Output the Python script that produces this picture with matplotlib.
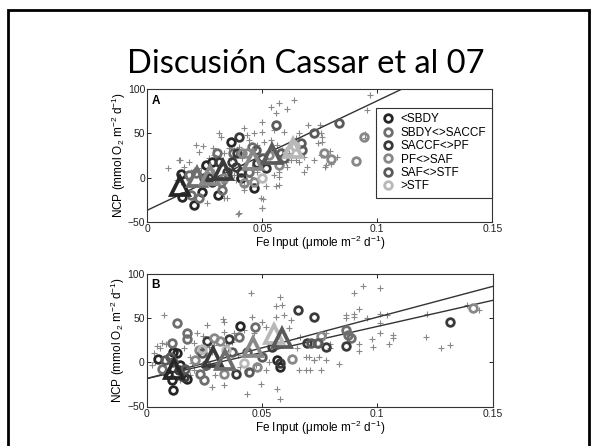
import matplotlib
matplotlib.use("Agg")
import matplotlib.pyplot as plt
from matplotlib.patches import Rectangle

plt.rcParams['font.family'] = ['Liberation Sans', 'DejaVu Sans']
plt.rcParams['mathtext.default'] = 'regular'

# region names and grey shades (legend order)
regions = ['<SBDY', 'SBDY<>SACCF', 'SACCF<>PF', 'PF<>SAF', 'SAF<>STF', '>STF']
shades = ['#262626', '#6e6e6e', '#3a3a3a', '#888888', '#5a5a5a', '#b8b8b8']

# ---- panel A ----
a_cross_x = [0.0536, 0.0572, 0.0609, 0.0638, 0.0558, 0.050, 0.042, 0.0435, 0.0464, 0.050,
             0.055, 0.0594, 0.031, 0.0319, 0.021, 0.0225, 0.018, 0.014, 0.016, 0.0333,
             0.0355, 0.0377, 0.040, 0.0478, 0.0507, 0.0536, 0.0565, 0.0587, 0.0616, 0.0623,
             0.0645, 0.0601, 0.0609, 0.0572, 0.055, 0.0572, 0.0558, 0.0572, 0.0514, 0.0493,
             0.050, 0.0399, 0.042, 0.042, 0.0348, 0.0333, 0.026, 0.018, 0.0203, 0.0232,
             0.026, 0.029, 0.0355, 0.0377, 0.0384, 0.0435, 0.045, 0.0478, 0.0457, 0.042,
             0.0413, 0.0362, 0.029, 0.0268, 0.0188, 0.0145, 0.0128, 0.068, 0.0696, 0.0725,
             0.0754, 0.0775, 0.066, 0.068, 0.074, 0.0754, 0.0645, 0.066, 0.0968, 0.0954,
             0.075, 0.0758, 0.0758, 0.0794, 0.0826, 0.0773, 0.080, 0.0947, 0.0947, 0.070,
             0.0138, 0.0174, 0.0396, 0.0497, 0.0504, 0.009, 0.024, 0.0285, 0.0335, 0.044]
a_cross_y = [79.6, 84, 77.3, 88, 72.8, 63.3, 55.8, 48.2, 50, 52,
             54, 52, 50, 46, 37, 29.4, 18, 20, 12, 27.5,
             33, 31, 35, 37, 40.7, 42.6, 37, 31, 27.5, 20,
             20, 18, 12.4, 6.7, 3, 1, -10, -8, -10, -23.5,
             -35, -40.5, -14, -8, -23.5, -23.5, -29, -2.7, 8.6, 10.5,
             6.7, 6.7, 8.6, 3, -2.7, -2.7, 1, 6.7, 12.4, 14.2,
             22, 22, 25.6, 22, 6.7, -4.6, -2.7, 6.7, 12.4, 20,
             25.6, 14.2, 18, 23.7, 38.8, 50, 44.5, 50, 93.5, 76.5,
             59.5, 46, 40, 30, 23, 12, 15, 49, 45, 60,
             19.7, -1, -41, -35, -24, 11, 36, 33, -6, 43]

a_circle_x = [
    [0.0145, 0.0152, 0.0203, 0.0239, 0.0254, 0.0283, 0.0307, 0.0362, 0.0406, 0.0464],
    [0.0188, 0.0225, 0.018, 0.021, 0.0304, 0.0326, 0.0319, 0.0374, 0.0442, 0.0457],
    [0.0246, 0.0312, 0.037, 0.0384, 0.039, 0.0268, 0.0283, 0.0348, 0.0406, 0.0478, 0.0514, 0.0399],
    [0.0413, 0.0435, 0.0333, 0.042, 0.0464, 0.0529, 0.0572, 0.0768, 0.0797, 0.0907, 0.0942],
    [0.0471, 0.050, 0.0558, 0.058, 0.0594, 0.0667, 0.0725, 0.0835, 0.0674],
    [0.050, 0.0616, 0.064],
]
a_circle_y = [
    [4, -21.6, -31, -16, 14, 18, -19.7, 40.7, -1, -12],
    [-19.7, -23.5, 3, 5, 27.5, -14, -4.6, 27.5, 6.7, 35],
    [-1, 18, 18, 12, 27.5, -1, -4.6, 6.7, 6.7, 16, 10.5, 46],
    [27.5, 27.5, -1, -6.5, -4.6, 25.6, 14.2, 27.5, 21, 18.8, 46],
    [31, 22, 59.6, 27.5, 21.8, 38.8, 51, 62, 31],
    [-1, 30, 36],
]
# region means (triangles)
a_tri_x = [0.014, 0.0216, 0.0274, 0.033, 0.046, 0.054, 0.0634]
a_tri_y = [-10, 1, 3, 8.6, 20, 27, 33]
a_tri_region = [0, 1, 3, 2, 3, 4, 5]

# fitted line A (intercept, slope)
a_fit = [(-37.0, 1240.0)]

# ---- panel B ----
b_cross_x = [0.0937, 0.1011, 0.0898, 0.092, 0.0863, 0.0863, 0.0898, 0.0898, 0.0953, 0.1011,
             0.1042, 0.1011, 0.1214, 0.1388, 0.1442, 0.1013, 0.1068, 0.1068, 0.1049, 0.0978,
             0.0982, 0.092, 0.092, 0.121, 0.1275, 0.1316, 0.0689, 0.0704, 0.0725, 0.0776,
             0.0795, 0.0795, 0.0652, 0.0776, 0.0073, 0.0262, 0.0331, 0.0334, 0.045, 0.058,
             0.0559, 0.0588, 0.0595, 0.0559, 0.0625, 0.0501, 0.0516, 0.0334, 0.0378, 0.042,
             0.0458, 0.0465, 0.037, 0.0342, 0.029, 0.0269, 0.0218, 0.0204, 0.0187, 0.016,
             0.0066, 0.0059, 0.003, 0.0037, 0.0023, 0.0167, 0.0197, 0.0204, 0.0189, 0.0146,
             0.0247, 0.0283, 0.0334, 0.0298, 0.037, 0.0406, 0.0436, 0.0472, 0.0516, 0.053,
             0.0494, 0.0566, 0.0436, 0.058, 0.071, 0.066, 0.0689, 0.0725, 0.0746, 0.0754,
             0.0045, 0.0085, 0.0125, 0.0245, 0.0285, 0.0395, 0.0555, 0.0615, 0.0665, 0.0835]
b_cross_y = [86.4, 83.4, 77.7, 60, 53, 49.5, 53.9, 51, 49.5, 54,
             53, 44, 53.9, 65, 58.5, 32.7, 30.7, 27, 20.2, 26.1,
             17.4, 20.4, 12.6, 28.8, 15.5, 19.3, -9.2, 6, 2.3, 2.3,
             15.5, 20.2, 16, 33.2, 53.4, 42, 48.5, 45.8, 78, 74,
             62.9, 64.8, 53.4, 51.5, 47.7, 45.8, 40.1, 34.4, 32.6, 36.3,
             51.5, 32.6, 23.1, 19.3, 19.3, 17.4, 32.6, 21.2, 6, 15.5,
             21.2, 15.5, 9.8, 0.4, -3.4, -5.3, -1.5, -9.1, -14.8, -20.5,
             -9.1, -28, -26.1, -14.8, -9.1, -5.3, -9.1, -3.4, -9.1, 0.4,
             -24.3, -30, -35.6, -41.3, -9.1, -9.1, 6, 2.3, 6, -9.1,
             18, 20, 14, 30, 12, 8, 22, 38, 28, -2]

b_circle_x = [
    [0.0051, 0.0116, 0.013, 0.0145, 0.0094, 0.0109, 0.0116, 0.0174, 0.0406, 0.0566, 0.058],
    [0.013, 0.0174, 0.0174, 0.0065, 0.0109, 0.0399, 0.0471, 0.0233, 0.0247, 0.0862, 0.0872, 0.0886],
    [0.0261, 0.0356, 0.0138, 0.016, 0.0385, 0.0545, 0.058, 0.0694, 0.0776, 0.0865, 0.1316, 0.0726, 0.0656],
    [0.0225, 0.029, 0.0319, 0.0334, 0.0479, 0.063, 0.074, 0.0757, 0.1413, 0.0211],
    [0.008, 0.0101, 0.0116, 0.0167, 0.0239, 0.0255, 0.0435, 0.037, 0.050, 0.0443, 0.0714, 0.0743],
    [0.042, 0.0239, 0.0345],
]
b_circle_y = [
    [4.1, 11.7, 9.8, -3.4, -12.9, -20.5, -31.8, -18.6, 40.9, 2.3, -5.3],
    [44, 32.6, 25.7, -7.2, 21.2, 28.8, 40.1, -12.9, -20.5, 36.4, 30.7, 26.9],
    [24.2, 25.7, -9.1, -16.7, -12.9, 16.6, -1.5, 21.2, 16.6, 18.6, 45.5, 51.5, 59],
    [13.6, 26.9, 24.2, -12.9, -6, 4.1, 21.2, 29.6, 61, 2.3],
    [2.3, 6, 0.4, -7.2, 9.8, -3.4, 11.7, 11.7, 6, -11, 21.3, 21.3],
    [-0.8, 15, 14],
]
b_tri_x = [0.012, 0.0289, 0.0339, 0.0463, 0.055, 0.0585]
b_tri_y = [-8, 6, 2, 17, 32, 27]
b_tri_region = [0, 2, 1, 3, 5, 4]

# two fitted lines in B
b_fit = [(-18.5, 693.0), (-18.5, 588.0)]

x_ticks = [0, 0.05, 0.1, 0.15]
x_ticklabels = ['0', '0.05', '0.1', '0.15']
y_ticks = [-50, 0, 50, 100]


def draw_panel(ax, letter, cross_x, cross_y, circ_x, circ_y, tri_x, tri_y, tri_reg, fits, legend=False):
    ax.plot(cross_x, cross_y, '+', color='#888888', ms=5, mew=0.8, zorder=2)
    for b0, b1 in fits:
        ax.plot([0, 0.15], [b0, b0 + b1 * 0.15], color='#333333', lw=1.0, zorder=3)
    for i in range(len(regions)):
        ax.plot(circ_x[i], circ_y[i], 'o', mfc='none', mec=shades[i], ms=5.5, mew=2.0,
                label=regions[i], zorder=4)
    for x, y, r in zip(tri_x, tri_y, tri_reg):
        ax.plot(x, y, '^', mfc='none', mec=shades[r], ms=13, mew=2.7, zorder=5)

    ax.set_xlim(0, 0.15)
    ax.set_ylim(-50, 100)
    ax.set_xticks(x_ticks)
    ax.set_xticklabels(x_ticklabels)
    ax.set_yticks(y_ticks)
    ax.tick_params(direction='in', length=3, width=0.7, top=True, right=True,
                   labelsize=7.5, pad=1.5, colors='#222222')
    for s in ax.spines.values():
        s.set_linewidth(0.8)
        s.set_color('#333333')
    ax.set_xlabel('Fe Input (\u03bcmole m$^{-2}$ d$^{-1}$)', fontsize=8.5, labelpad=0)
    ax.set_ylabel('NCP (mmol O$_2$ m$^{-2}$ d$^{-1}$)', fontsize=8.5, labelpad=0)
    ax.text(0.012, 0.96, letter, transform=ax.transAxes, fontsize=8.5, fontweight='bold',
            va='top', ha='left')
    if legend:
        leg = ax.legend(loc='upper right', bbox_to_anchor=(0.998, 0.859), fontsize=8.5,
                        frameon=True, fancybox=False, framealpha=1, edgecolor='#333333',
                        handlelength=1.0, handletextpad=0.6, labelspacing=0.12,
                        borderpad=0.45, borderaxespad=0, numpoints=1)
        leg.get_frame().set_linewidth(0.8)


fig = plt.figure(figsize=(5.92, 4.46), dpi=100)

# slide frame
fig.add_artist(Rectangle((8 / 592, -0.05), 581 / 592, 1.05 - 10 / 446, transform=fig.transFigure,
                         fill=False, edgecolor='black', lw=2))
fig.text(306 / 592, 1 - 73 / 446, 'Discusi\u00f3n Cassar et al 07', fontsize=23.5,
         family='Lato', ha='center', va='baseline')

ax_a = fig.add_axes([147.3 / 592, 1 - 221.7 / 446, 345 / 592, 132.4 / 446])
draw_panel(ax_a, 'A', a_cross_x, a_cross_y, a_circle_x, a_circle_y,
           a_tri_x, a_tri_y, a_tri_region, a_fit, legend=True)

ax_b = fig.add_axes([146.7 / 592, 1 - 406.5 / 446, 346 / 592, 133 / 446])
draw_panel(ax_b, 'B', b_cross_x, b_cross_y, b_circle_x, b_circle_y,
           b_tri_x, b_tri_y, b_tri_region, b_fit)

fig.savefig('out.png', dpi=100)
